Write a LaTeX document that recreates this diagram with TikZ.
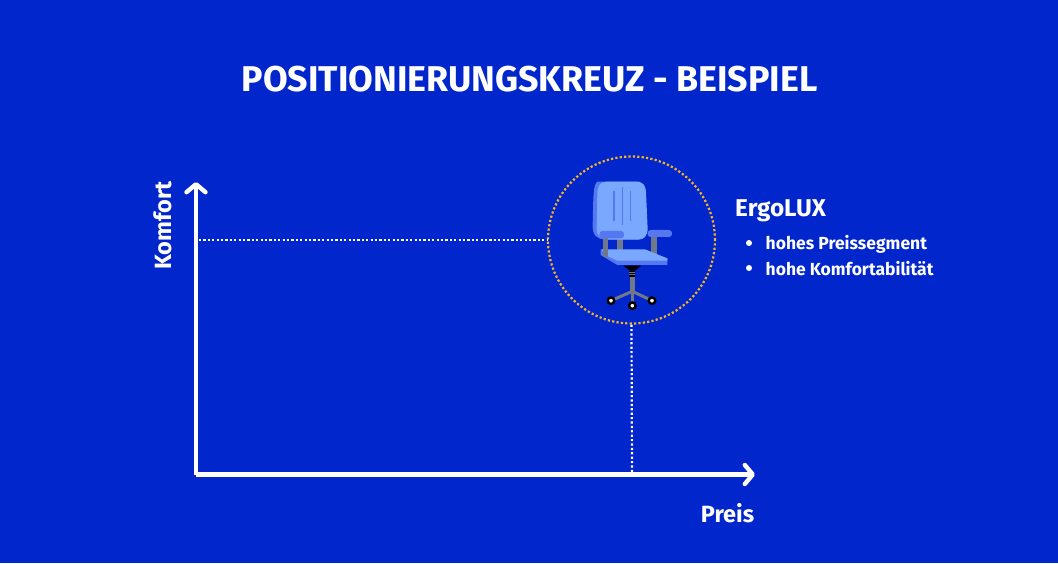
\documentclass[tikz,border=0pt]{standalone}
\usepackage{fontspec}
\setmainfont{Fira Sans}
\usetikzlibrary{arrows.meta}
\definecolor{bgblue}{RGB}{0,38,204}
\definecolor{seatlight}{RGB}{122,168,255}
\definecolor{seatdark}{RGB}{85,120,240}
\definecolor{legcolor}{RGB}{112,120,138}
\definecolor{ringcolor}{RGB}{245,180,40}

\begin{document}
\begin{tikzpicture}[x=1pt,y=-1pt,
		label/.style = {text=white, font=\bfseries, inner sep=0pt},
		title/.style = {label, font=\bfseries\fontsize{35.8}{35.8}\selectfont},
		head/.style = {label, font=\bfseries\fontsize{24.3}{24.3}\selectfont, anchor=west},
		item/.style = {label, font=\bfseries\fontsize{17.5}{17.5}\selectfont, anchor=west},
		axlabel/.style = {label, font=\bfseries\fontsize{23.5}{23.5}\selectfont},
		dot/.style = {circle, fill=white, inner sep=0pt, minimum size=6pt},
		axis/.style = {draw=white, line width=4.4pt, -{Straight Barb[length=8pt,width=19pt,round]}},
		guide/.style = {draw=white, line width=2.2pt, dash pattern=on 2.2pt off 2.2pt},
		ring/.style = {circle, draw=ringcolor, line width=2.2pt, dash pattern=on 2.2pt off 2.2pt, minimum size=167pt, inner sep=0pt},
		post/.style = {fill=legcolor},
		wheel/.style = {circle, draw=black, fill=white, line width=2.4pt, minimum size=6.5pt, inner sep=0pt}
		]
		\fill[bgblue] (0,0) rectangle (1058,563);
		\useasboundingbox (0,0) rectangle (1058,563);

		\node (T) [title] at (529.5,79) {POSITIONIERUNGSKREUZ - BEISPIEL};

		% axes
		\coordinate (O) at (196,474.5);
		\coordinate (Y) at (196,182);
		\coordinate (X) at (755,474.5);
		\coordinate (YG) at (199,240);
		\coordinate (XG) at (632,472);
		\draw[axis] (O) -- (Y);
		\draw[axis] (O) -- (X);
		\node (K) [axlabel,rotate=90] at (163,225.5) {Komfort};
		\node (P) [axlabel] at (727.5,513) {Preis};

		% ring and guides
		\node (R) [ring] at (631.5,240) {};
		\draw[guide] (YG) -- (R.west);
		\draw[guide] (R.south) -- (XG);

		% chair
		\begin{scope}[shift={(540,150)},x=0.3333pt,y=-0.3333pt]
			\fill[post] (232,262) rectangle (249,300);
			\fill[post] (334,255) rectangle (350,312);
			\fill[seatdark] (172,95) .. controls (160,105) and (160,130) .. (158,225) .. controls (157,255) and (170,268) .. (195,268) -- (300,268) -- (300,95) -- cycle;
			\fill[seatlight] (200,95) -- (290,95) .. controls (310,95) and (317,108) .. (318,125) -- (323,235) .. controls (323,258) and (312,269) .. (295,269) -- (205,269) .. controls (183,269) and (170,258) .. (170,235) -- (172,130) .. controls (173,108) and (180,95) .. (200,95) -- cycle;
			\draw[seatdark,line width=1.4pt] (222,123) -- (222,212);
			\draw[seatdark,line width=1.4pt] (248,112) -- (248,226);
			\draw[seatdark,line width=1.4pt] (271,122) -- (271,212);
			\fill[seatdark,rounded corners=3pt] (323,240) rectangle (396,261);
			% seat
			\fill[seatdark] (182,298) -- (182,315) -- (232,345) -- (382,345) -- (382,325) -- cycle;
			\fill[seatlight] (186,298) -- (315,298) -- (382,325) -- (382,332) -- (232,332) -- (190,312) -- cycle;
			\fill[post] (189,262) rectangle (205,322);
			\fill[seatdark,rounded corners=3pt] (178,243) rectangle (252,265);
			% base
			\fill[black] (250,347) -- (304,347) -- (285,362) -- (270,362) -- cycle;
			\fill[black] (268,362) rectangle (286,380);
			\draw[legcolor,line width=0.8pt] (268,367) -- (286,367) (268,372) -- (286,372);
			\fill[post] (270,380) rectangle (284,422);
			\draw[legcolor,line width=3pt] (213,452) -- (277,424) -- (336,452);
			\draw[legcolor,line width=3pt] (277,424) -- (277,467);
			\node (W1) [wheel] at (213,452) {};
			\node (W2) [wheel] at (336,452) {};
			\node (W3) [wheel] at (277,467) {};
		\end{scope}

		% description
		\node (E) [head] at (735,211) {ErgoLUX};
		\node (D1) [dot] at (749,243) {};
		\node (D2) [dot] at (749,268) {};
		\node (L1) [item] at (765.5,244) {hohes Preissegment};
		\node (L2) [item] at (765.5,269) {hohe Komfortabilität};
	\end{tikzpicture}
\end{document}
